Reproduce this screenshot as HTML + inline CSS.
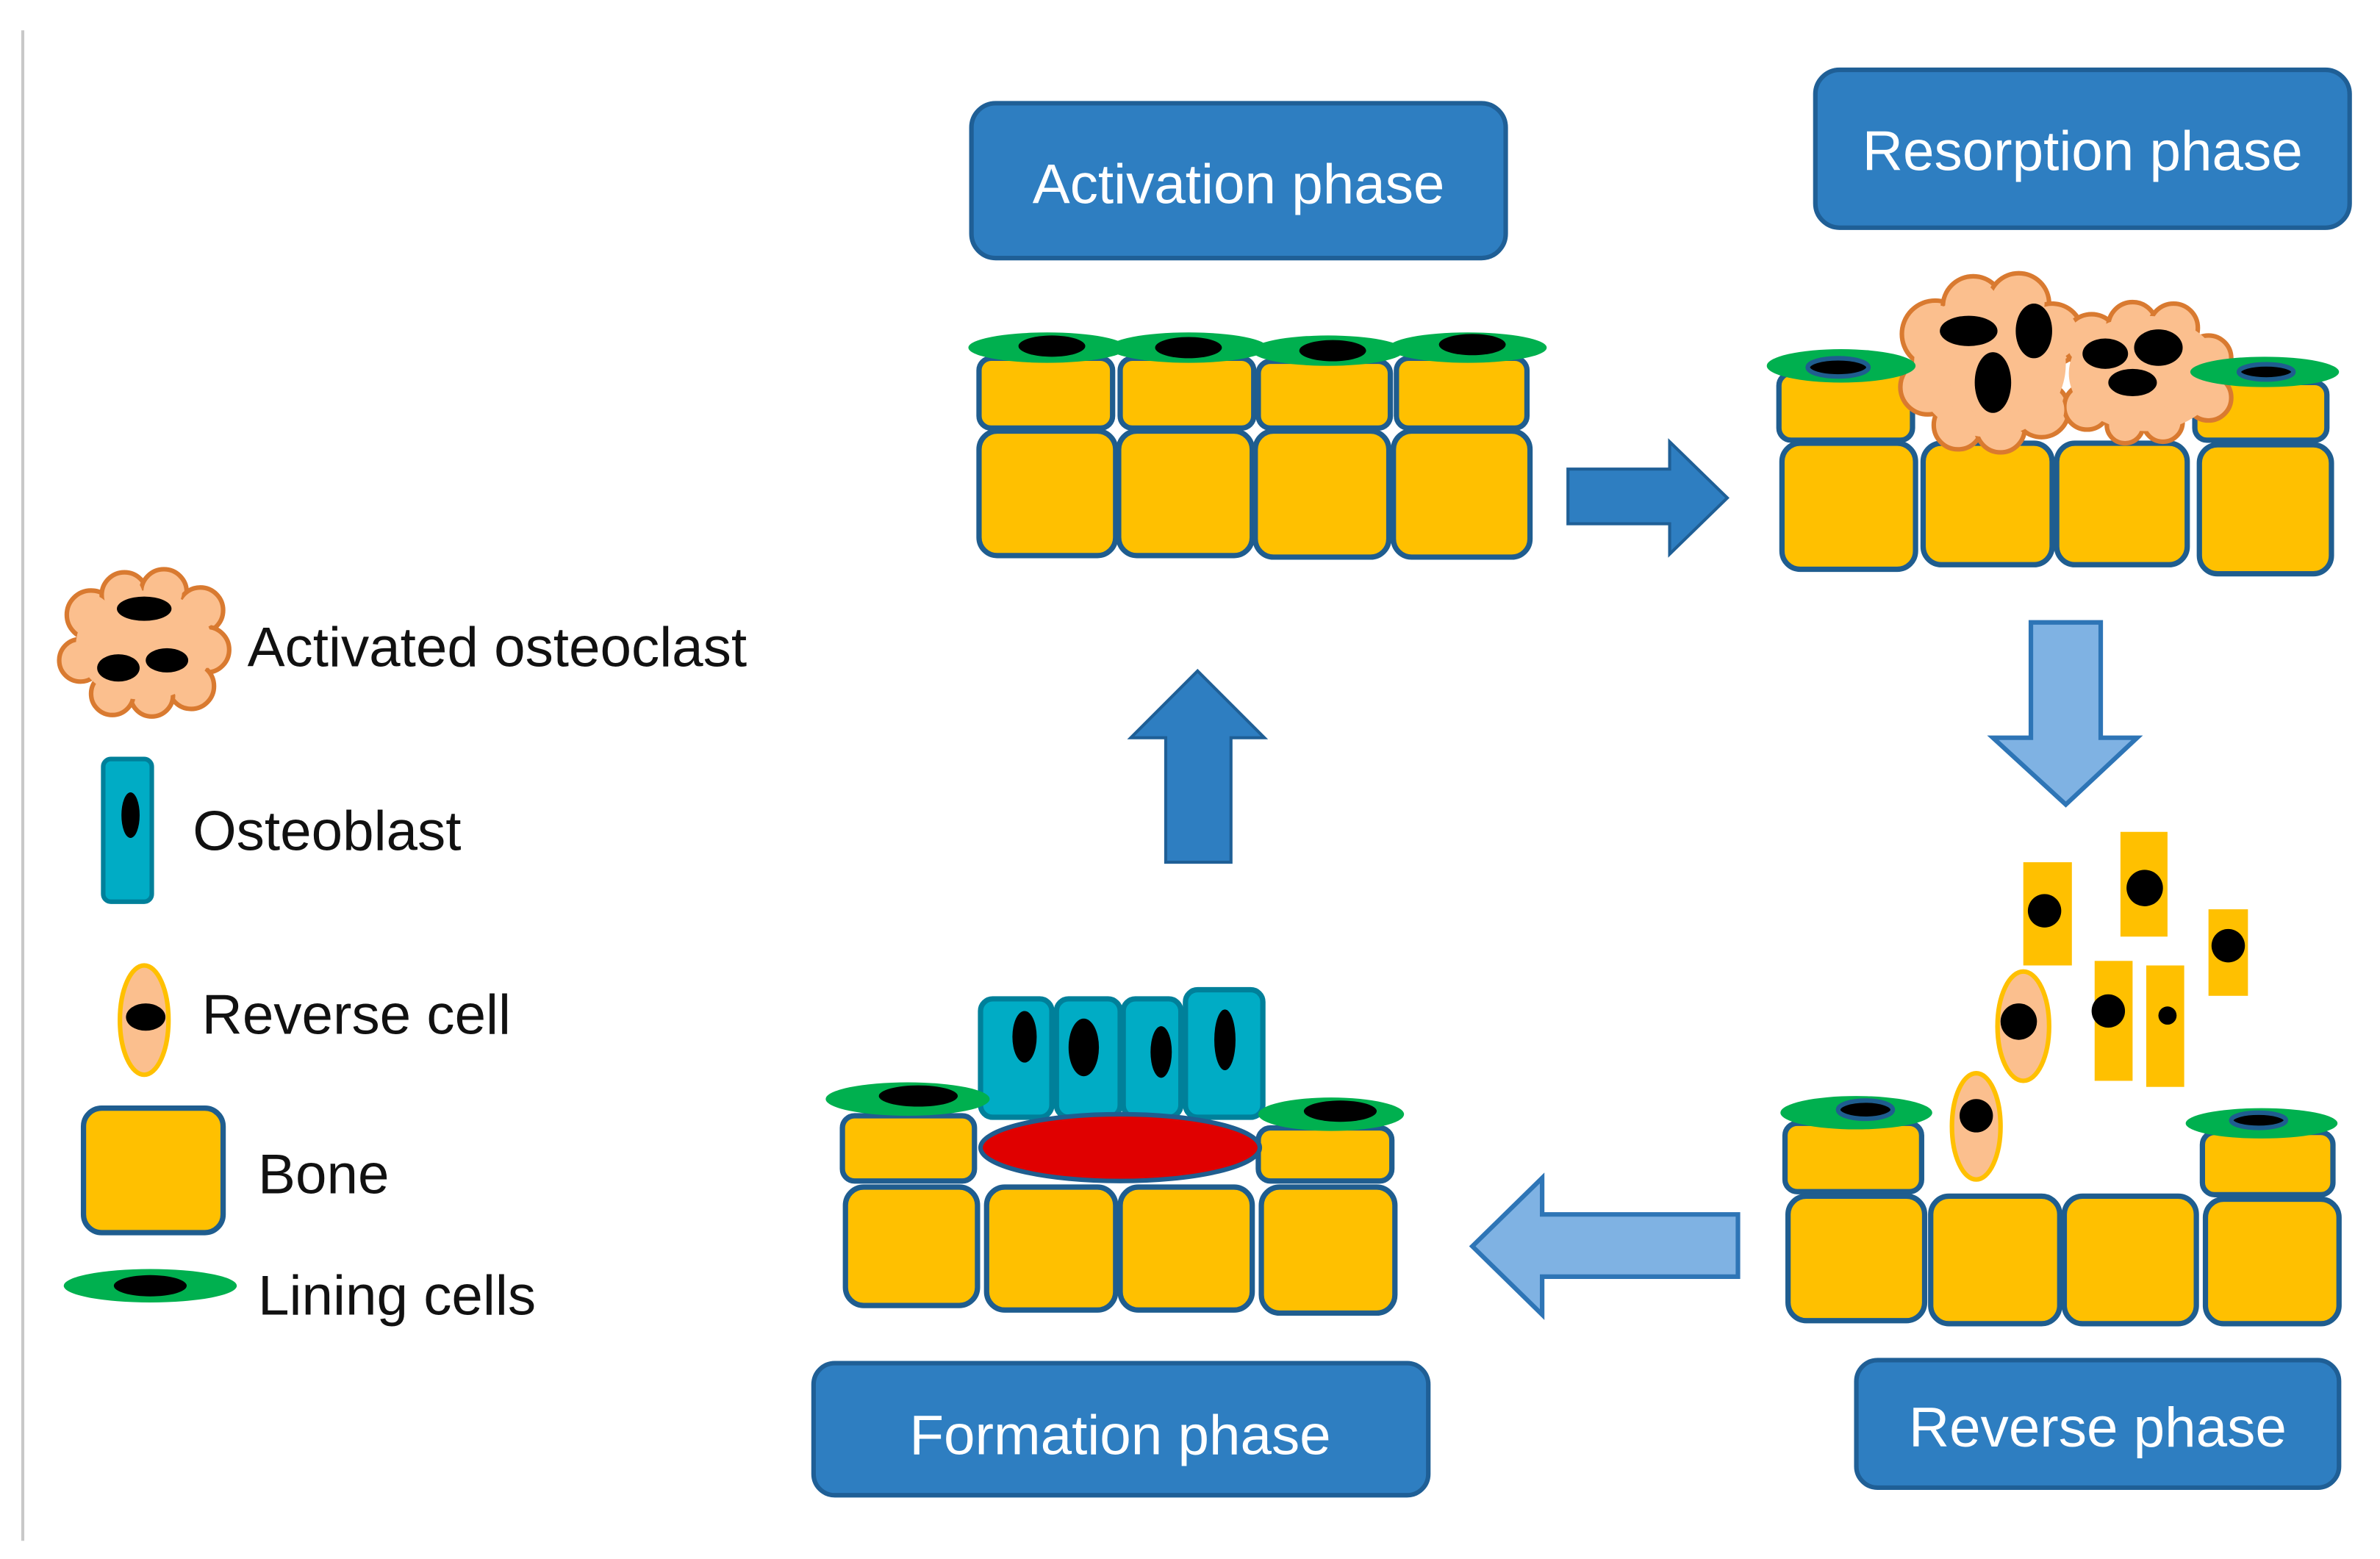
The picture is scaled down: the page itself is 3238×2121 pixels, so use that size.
<!DOCTYPE html>
<html><head><style>html,body{margin:0;padding:0;background:#fff}svg{display:block}</style></head>
<body>
<svg width="3238" height="2121" viewBox="0 0 1568 1027" preserveAspectRatio="none" xmlns="http://www.w3.org/2000/svg" font-family="Liberation Sans, sans-serif">
<rect width="1568" height="1027" fill="#fff"/>
<line x1="15" y1="20" x2="15" y2="1015" stroke="#c8c8c8" stroke-width="2"/>

<!-- phase boxes -->
<g fill="#2E7EC1" stroke="#1F5F96" stroke-width="3">
<rect x="640" y="68" width="352" height="102" rx="16"/>
<rect x="1196" y="46" width="352" height="104" rx="16"/>
<rect x="536" y="898" width="405" height="87" rx="14"/>
<rect x="1223" y="896" width="318" height="84" rx="14"/>
</g>
<g fill="#fff" font-size="37" text-anchor="middle">
<text x="816" y="134">Activation phase</text>
<text x="1372" y="112">Resorption phase</text>
<text x="738" y="958">Formation phase</text>
<text x="1382" y="953">Reverse phase</text>
</g>

<!-- Activation bone -->
<g fill="#FFC000" stroke="#1F5D8F" stroke-width="3.5">
<rect x="645" y="236" width="88" height="46" rx="8"/><rect x="738" y="236" width="88" height="46" rx="8"/>
<rect x="829" y="238" width="87" height="44" rx="8"/><rect x="920" y="236" width="86" height="46" rx="8"/>
<rect x="645" y="284" width="90" height="82" rx="12"/><rect x="737" y="284" width="88" height="82" rx="12"/>
<rect x="827" y="284" width="88" height="83" rx="12"/><rect x="918" y="284" width="90" height="83" rx="12"/>
</g>
<g fill="#00B04F">
<ellipse cx="690" cy="229" rx="52" ry="10"/><ellipse cx="783" cy="229" rx="52" ry="10"/>
<ellipse cx="875" cy="231" rx="50" ry="10"/><ellipse cx="967" cy="229" rx="52" ry="10"/>
</g>
<g fill="#000">
<ellipse cx="693" cy="228" rx="22" ry="7"/><ellipse cx="783" cy="229" rx="22" ry="7"/>
<ellipse cx="878" cy="231" rx="22" ry="7"/><ellipse cx="970" cy="227" rx="22" ry="7"/>
</g>

<!-- right arrow -->
<path d="M1033 309 H1100 V291 L1138 328 L1100 365 V345 H1033 Z" fill="#2E7EC1" stroke="#1F5F96" stroke-width="2"/>

<!-- Resorption -->
<g fill="#FFC000" stroke="#1F5D8F" stroke-width="3.5">
<rect x="1172" y="246" width="88" height="44" rx="8"/>
<rect x="1174" y="292" width="88" height="83" rx="12"/>
<rect x="1267" y="292" width="85" height="80" rx="12"/>
<rect x="1355" y="292" width="86" height="80" rx="12"/>
<rect x="1446" y="252" width="87" height="38" rx="8"/>
<rect x="1449" y="293" width="87" height="85" rx="12"/>
</g>
<g stroke="#D97A30" stroke-width="3" fill="#FBBF8E">
<circle cx="1275" cy="220" r="22"/><circle cx="1300" cy="202" r="20"/><circle cx="1330" cy="200" r="20"/><circle cx="1352" cy="220" r="20"/>
<circle cx="1270" cy="255" r="18"/><circle cx="1290" cy="280" r="16"/><circle cx="1318" cy="282" r="16"/><circle cx="1345" cy="270" r="18"/>
<circle cx="1378" cy="225" r="18"/><circle cx="1405" cy="215" r="16"/><circle cx="1432" cy="216" r="16"/><circle cx="1455" cy="236" r="15"/>
<circle cx="1455" cy="262" r="15"/><circle cx="1425" cy="278" r="13"/><circle cx="1400" cy="280" r="12"/><circle cx="1375" cy="268" r="15"/>
</g>
<g fill="#FBBF8E">
<ellipse cx="1311" cy="240" rx="50" ry="48"/><ellipse cx="1413" cy="246" rx="50" ry="38"/>
<circle cx="1275" cy="220" r="19"/><circle cx="1300" cy="202" r="17"/><circle cx="1330" cy="200" r="17"/><circle cx="1352" cy="220" r="17"/>
<circle cx="1270" cy="255" r="15"/><circle cx="1290" cy="280" r="13"/><circle cx="1318" cy="282" r="13"/><circle cx="1345" cy="270" r="15"/>
<circle cx="1378" cy="225" r="15"/><circle cx="1405" cy="215" r="13"/><circle cx="1432" cy="216" r="13"/><circle cx="1455" cy="236" r="12"/>
<circle cx="1455" cy="262" r="12"/><circle cx="1425" cy="278" r="10"/><circle cx="1400" cy="280" r="9"/><circle cx="1375" cy="268" r="12"/>
</g>
<g fill="#000">
<ellipse cx="1297" cy="218" rx="19" ry="10"/><ellipse cx="1340" cy="218" rx="12" ry="18"/><ellipse cx="1313" cy="252" rx="12" ry="20"/>
<ellipse cx="1387" cy="233" rx="15" ry="10"/><ellipse cx="1422" cy="229" rx="16" ry="12"/><ellipse cx="1405" cy="252" rx="16" ry="9"/>
</g>
<g>
<ellipse cx="1213" cy="241" rx="49" ry="11" fill="#00B04F"/><ellipse cx="1211" cy="242" rx="20" ry="6" fill="#000" stroke="#1F5D8F" stroke-width="3"/>
<ellipse cx="1492" cy="245" rx="49" ry="10" fill="#00B04F"/><ellipse cx="1493" cy="245" rx="18" ry="5" fill="#000" stroke="#1F5D8F" stroke-width="3"/>
</g>

<!-- down arrow -->
<path d="M1338 410 H1384 V486 H1408 L1361 530 L1313 486 H1338 Z" fill="#7FB2E3" stroke="#2E75B6" stroke-width="3"/>

<!-- Reverse phase -->
<g fill="#FFC000">
<rect x="1333" y="568" width="32" height="68"/><rect x="1397" y="548" width="31" height="69"/>
<rect x="1455" y="599" width="26" height="57"/><rect x="1380" y="633" width="25" height="79"/>
<rect x="1414" y="636" width="25" height="80"/>
</g>
<g fill="#000">
<circle cx="1347" cy="600" r="11"/><circle cx="1413" cy="585" r="12"/><circle cx="1468" cy="623" r="11"/>
<circle cx="1389" cy="666" r="11"/><circle cx="1428" cy="669" r="6"/>
</g>
<g fill="#FBBF8E" stroke="#FFC000" stroke-width="3">
<ellipse cx="1333" cy="676" rx="17" ry="36"/><ellipse cx="1302" cy="742" rx="16" ry="35"/>
</g>
<g fill="#000"><circle cx="1330" cy="673" r="12"/><circle cx="1302" cy="735" r="11"/></g>
<g fill="#FFC000" stroke="#1F5D8F" stroke-width="3.5">
<rect x="1176" y="740" width="90" height="45" rx="8"/>
<rect x="1178" y="788" width="90" height="82" rx="12"/>
<rect x="1272" y="788" width="85" height="84" rx="12"/>
<rect x="1360" y="788" width="87" height="84" rx="12"/>
<rect x="1451" y="746" width="86" height="41" rx="8"/>
<rect x="1453" y="790" width="88" height="82" rx="12"/>
</g>
<ellipse cx="1223" cy="733" rx="50" ry="11" fill="#00B04F"/><ellipse cx="1229" cy="731" rx="18" ry="6" fill="#000" stroke="#1F5D8F" stroke-width="3"/>
<ellipse cx="1490" cy="740" rx="50" ry="10" fill="#00B04F"/><ellipse cx="1488" cy="738" rx="18" ry="5" fill="#000" stroke="#1F5D8F" stroke-width="3"/>

<!-- left arrow -->
<path d="M970 821 L1016 776 V800 H1145 V841 H1016 V866 Z" fill="#7FB2E3" stroke="#2E75B6" stroke-width="3"/>

<!-- Formation -->
<g fill="#FFC000" stroke="#1F5D8F" stroke-width="3.5">
<rect x="555" y="735" width="87" height="43" rx="8"/>
<rect x="557" y="782" width="87" height="78" rx="12"/>
<rect x="650" y="782" width="85" height="81" rx="12"/>
<rect x="738" y="782" width="87" height="81" rx="12"/>
<rect x="829" y="743" width="88" height="35" rx="8"/>
<rect x="831" y="782" width="88" height="83" rx="12"/>
</g>
<g fill="#00ACC5" stroke="#00809A" stroke-width="3.5">
<rect x="646" y="658" width="47" height="78" rx="8"/><rect x="696" y="658" width="42" height="78" rx="8"/>
<rect x="740" y="658" width="38" height="78" rx="8"/><rect x="781" y="652" width="51" height="84" rx="8"/>
</g>
<g fill="#000">
<ellipse cx="675" cy="683" rx="8" ry="17"/><ellipse cx="714" cy="690" rx="10" ry="19"/>
<ellipse cx="765" cy="693" rx="7" ry="17"/><ellipse cx="807" cy="685" rx="7" ry="20"/>
</g>
<ellipse cx="738" cy="756" rx="92" ry="22" fill="#E00000" stroke="#1F5D8F" stroke-width="3"/>
<ellipse cx="598" cy="724" rx="54" ry="11" fill="#00B04F"/><ellipse cx="605" cy="722" rx="26" ry="7" fill="#000"/>
<ellipse cx="877" cy="734" rx="48" ry="11" fill="#00B04F"/><ellipse cx="883" cy="732" rx="24" ry="7" fill="#000"/>

<!-- up arrow -->
<path d="M789 442 L833 486 H811 V568 H768 V486 H745 Z" fill="#2E7EC1" stroke="#1F5F96" stroke-width="2"/>

<!-- Legend -->
<g stroke="#D97A30" stroke-width="3" fill="#FBBF8E">
<circle cx="60" cy="405" r="16"/><circle cx="82" cy="392" r="15"/><circle cx="108" cy="390" r="15"/><circle cx="132" cy="402" r="15"/>
<circle cx="136" cy="428" r="15"/><circle cx="126" cy="452" r="15"/><circle cx="100" cy="458" r="14"/><circle cx="74" cy="457" r="14"/>
<circle cx="53" cy="435" r="14"/>
</g>
<g fill="#FBBF8E">
<ellipse cx="95" cy="425" rx="45" ry="36"/>
<circle cx="60" cy="405" r="13"/><circle cx="82" cy="392" r="12"/><circle cx="108" cy="390" r="12"/><circle cx="132" cy="402" r="12"/>
<circle cx="136" cy="428" r="12"/><circle cx="126" cy="452" r="12"/><circle cx="100" cy="458" r="11"/><circle cx="74" cy="457" r="11"/>
<circle cx="53" cy="435" r="11"/>
</g>
<g fill="#000"><ellipse cx="95" cy="401" rx="18" ry="8"/><ellipse cx="78" cy="440" rx="14" ry="9"/><ellipse cx="110" cy="435" rx="14" ry="8"/></g>
<rect x="68" y="500" width="32" height="94" rx="5" fill="#00ACC5" stroke="#00809A" stroke-width="3"/>
<ellipse cx="86" cy="537" rx="6" ry="15" fill="#000"/>
<ellipse cx="95" cy="672" rx="16" ry="36" fill="#FBBF8E" stroke="#FFC000" stroke-width="3"/>
<ellipse cx="96" cy="670" rx="13" ry="9" fill="#000"/>
<rect x="55" y="730" width="92" height="82" rx="12" fill="#FFC000" stroke="#1F5D8F" stroke-width="3.5"/>
<ellipse cx="99" cy="847" rx="57" ry="11" fill="#00B04F"/><ellipse cx="99" cy="847" rx="24" ry="7" fill="#000"/>
<g fill="#111" font-size="37">
<text x="163" y="439">Activated osteoclast</text>
<text x="127" y="560">Osteoblast</text>
<text x="133" y="681">Reverse cell</text>
<text x="170" y="786">Bone</text>
<text x="170" y="866">Lining cells</text>
</g>
</svg>
</body></html>
